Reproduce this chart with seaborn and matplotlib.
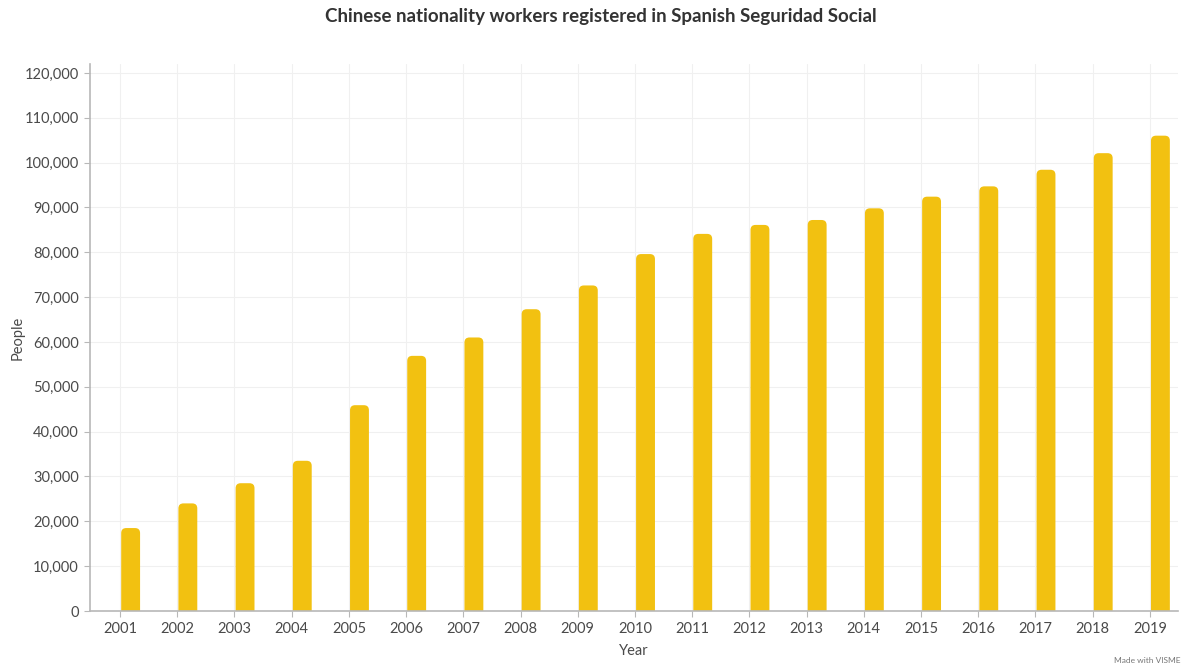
import numpy as np
import pandas as pd
import matplotlib
matplotlib.use("Agg")
import matplotlib.pyplot as plt
from matplotlib.patches import FancyBboxPatch
from matplotlib.ticker import FuncFormatter, MultipleLocator
import seaborn as sns

# Chinese nationality workers registered in the Spanish Social Security system
years = [str(y) for y in range(2001, 2020)]
people = [18500, 24000, 28500, 33500, 45900, 56900, 61000, 67300, 72600, 79600,
          84100, 86100, 87200, 89800, 92400, 94700, 98400, 102100, 106000]

bar_color = "#F2C111"
text_color = "#4a4a4a"
grid_color = "#f0f0f0"
spine_color = "#b8b8b8"

sns.set_theme(style="white")
plt.rcParams["font.family"] = ["Lato", "DejaVu Sans"]

df = pd.DataFrame({"Year": years, "People": people})

fig = plt.figure(figsize=(11.86, 6.68), dpi=100)
ax = fig.add_axes([0.0759, 0.0853, 0.917, 0.819])

sns.barplot(data=df, x="Year", y="People", color=bar_color, width=0.33,
            saturation=1, ax=ax)

ax.set_ylim(0, 122000)
ax.set_xlim(-0.71, len(years) - 1 + 0.3)

# Round the top corners of each bar (bottom corners fall below the axis and are clipped)
px_x = ax.transData.transform((1, 0))[0] - ax.transData.transform((0, 0))[0]
px_y = ax.transData.transform((0, 1000))[1] - ax.transData.transform((0, 0))[1]
aspect = (1000 / px_y) / (1 / px_x)
radius = 5 / px_x
for p in list(ax.patches):
    x, w, h = p.get_x(), p.get_width(), p.get_height()
    extra = radius * aspect
    rounded = FancyBboxPatch((x, -extra), w, h + extra,
                             boxstyle=f"round,pad=0,rounding_size={radius}",
                             mutation_aspect=aspect, facecolor=bar_color,
                             edgecolor="none", clip_on=True, zorder=2)
    p.remove()
    ax.add_patch(rounded)

# Category ticks sit at the left edge of each bar
offset = 0.185
ax.set_xticks(np.arange(len(years)) - offset, labels=years)
ax.yaxis.set_major_locator(MultipleLocator(10000))
ax.yaxis.set_major_formatter(FuncFormatter(lambda v, _: f"{int(v):,}"))

ax.grid(True, axis="both", color=grid_color, linewidth=0.8, linestyle="-", zorder=0)
ax.set_axisbelow(True)

for side in ["top", "right"]:
    ax.spines[side].set_visible(False)
for side in ["left", "bottom"]:
    ax.spines[side].set_color(spine_color)
    ax.spines[side].set_linewidth(1.2)

ax.tick_params(axis="both", which="major", length=4, width=0.8, color=spine_color,
               labelsize=10.5, labelcolor=text_color, pad=4, direction="out",
               bottom=True, left=True)

ax.set_xlabel("Year", fontsize=10.5, color=text_color, labelpad=6)
ax.set_ylabel("People", fontsize=10.5, color=text_color)
ax.yaxis.set_label_coords(-0.06, 0.5)

fig.suptitle("Chinese nationality workers registered in Spanish Seguridad Social",
             x=0.507, y=0.988, fontsize=13.5, fontweight="bold", color="#333333",
             va="top")

fig.text(0.995, 0.006, "Made with VISME", ha="right", va="bottom",
         fontsize=6, color="#777777")

fig.savefig("out.png", dpi=100, facecolor="white")
